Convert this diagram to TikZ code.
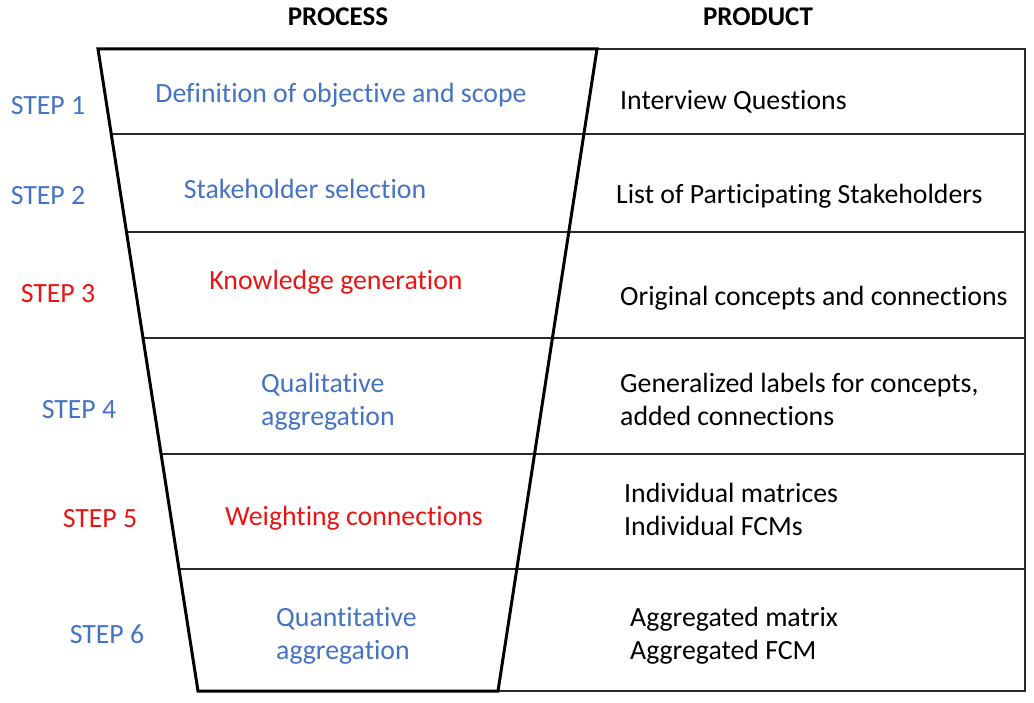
\documentclass[tikz,border=0pt]{standalone}
\usepackage{fontspec}
\setmainfont{Carlito}[Ligatures=NoCommon]
\definecolor{stepblue}{RGB}{68,114,196}
\definecolor{stepred}{RGB}{235,20,20}
\definecolor{linegray}{RGB}{40,40,40}
\tikzset{
  txt/.style={inner sep=0pt, font={\fontsize{27.8}{33}\selectfont}, align=left},
  bluetxt/.style={txt, text=stepblue},
  redtxt/.style={txt, text=stepred},
  blacktxt/.style={txt, text=black, anchor=west},
  head/.style={inner sep=0pt, font={\fontsize{27}{30}\selectfont\bfseries}},
  thin/.style={draw=linegray, line width=1.4pt},
  funnel/.style={draw=black, line width=3pt, line join=miter}
}
\begin{document}
\begin{tikzpicture}[x=1pt,y=-1pt]
\useasboundingbox (0,0) rectangle (1034,703);
\fill[white] (0,0) rectangle (1034,703);
% corner coordinates
\coordinate (tl) at (98,49);
\coordinate (tr) at (597,49);
\coordinate (br) at (498,691);
\coordinate (bl) at (198,691);
\coordinate (otr) at (1025,49);
\coordinate (obr) at (1025,691);
% thin frame
\draw[thin] (tr) -- (otr) -- (obr) -- (br);
% row separators
\foreach \y/\n in {134/a,232/b,338/c,454/d,569/e}{
  \pgfmathsetmacro{\xl}{98+(\y-49)/6.42}
  \coordinate (L\n) at (\xl,\y);
  \coordinate (R\n) at (1025,\y);
  \draw[thin] (L\n) -- (R\n);
}
% funnel
\draw[funnel] (tl) -- (tr) -- (br) -- (bl) -- cycle;
% headers
\node[head] (hproc) at (338,17) {PROCESS};
\node[head] (hprod) at (758,17) {PRODUCT};
% step labels
\node[bluetxt] (s1) at (48,106) {STEP 1};
\node[bluetxt] (s2) at (48,196) {STEP 2};
\node[redtxt]  (s3) at (58,294) {STEP 3};
\node[bluetxt] (s4) at (79,410) {STEP 4};
\node[redtxt]  (s5) at (100,519) {STEP 5};
\node[bluetxt] (s6) at (107,634) {STEP 6};
% process texts
\node[bluetxt] (p1) at (341,95) {Definition of objective and scope};
\node[bluetxt] (p2) at (305,189) {Stakeholder selection};
\node[redtxt]  (p3) at (336,282) {Knowledge generation};
\node[bluetxt, anchor=west] (p4) at (261,402) {Qualitative\\aggregation};
\node[redtxt]  (p5) at (354,518) {Weighting connections};
\node[bluetxt, anchor=west] (p6) at (276,636) {Quantitative\\aggregation};
% product texts
\node[blacktxt] (q1) at (620,102) {Interview Questions};
\node[blacktxt] (q2) at (616,196) {List of Participating Stakeholders};
\node[blacktxt] (q3) at (620,298) {Original concepts and connections};
\node[blacktxt] (q4) at (620,399) {Generalized labels for concepts,\\added connections};
\node[blacktxt] (q5) at (624,509) {Individual matrices\\Individual FCMs};
\node[blacktxt] (q6) at (630,636) {Aggregated matrix\\Aggregated FCM};
\end{tikzpicture}
\end{document}
